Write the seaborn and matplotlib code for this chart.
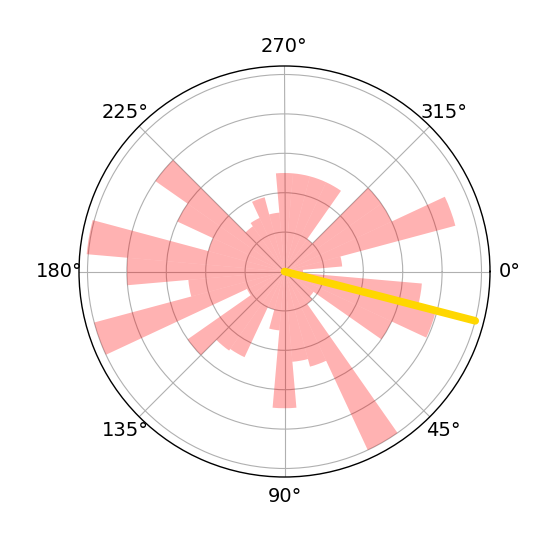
import numpy as np
import matplotlib
matplotlib.use("Agg")
import matplotlib.pyplot as plt
import seaborn as sns

# bin centres (degrees, clockwise from east) and bar lengths
angles_deg = [0, 10, 20, 30, 40, 50, 60, 70, 80, 90, 100, 110,
              120, 130, 140, 150, 160, 170, 180, 190, 200, 210, 220, 230,
              240, 250, 260, 270, 280, 290, 300, 310, 320, 330, 340, 350]
radii = [0.47, 3.5, 3.97, 3.0, 0.9, 1.0, 5.0, 2.5, 2.3, 3.47, 1.5, 1.0,
         2.4, 2.45, 3.0, 1.05, 5.0, 2.45, 4.0, 5.04, 2.0, 3.0, 4.0, 1.4,
         1.5, 1.95, 1.5, 2.5, 2.5, 2.5, 2.5, 1.0, 3.0, 3.0, 4.49, 1.47]
mean_angle_deg = [14.5]
mean_length = [5.0]
tick_deg = [0, 45, 90, 135, 180, 225, 270, 315]
tick_labels = ["0°", "45°", "90°", "135°", "180°", "225°", "270°", "315°"]

sns.set_style("white")
plt.rcParams["font.family"] = ["DejaVu Sans"]
plt.rcParams["text.color"] = "black"
plt.rcParams["xtick.color"] = "black"
plt.rcParams["ytick.color"] = "black"

fig = plt.figure(figsize=(5.54, 5.38), dpi=100)
ax = fig.add_axes([79 / 554, 61 / 538, 411 / 554, 411 / 538], projection="polar")
ax.set_theta_zero_location("E")
ax.set_theta_direction(-1)

theta = np.deg2rad(angles_deg)
width = np.deg2rad(10)
ax.bar(theta, radii, width=width, bottom=0.0, color="red", alpha=0.3,
       linewidth=0, align="center")

ma = np.deg2rad(mean_angle_deg[0])
ax.plot([ma, ma], [0, mean_length[0]], color="gold", linewidth=5.5, zorder=3)

ax.set_ylim(0, 5.216)
ax.set_yticks([1, 2, 3, 4, 5])
ax.set_yticklabels([])
ax.set_xticks(np.deg2rad(tick_deg))
ax.set_xticklabels(tick_labels, fontsize=14, color="black")
ax.grid(True, color="#b0b0b0", linewidth=0.8)
ax.spines["polar"].set_color("black")
ax.spines["polar"].set_linewidth(1.0)

fig.savefig("out.png", dpi=100)
